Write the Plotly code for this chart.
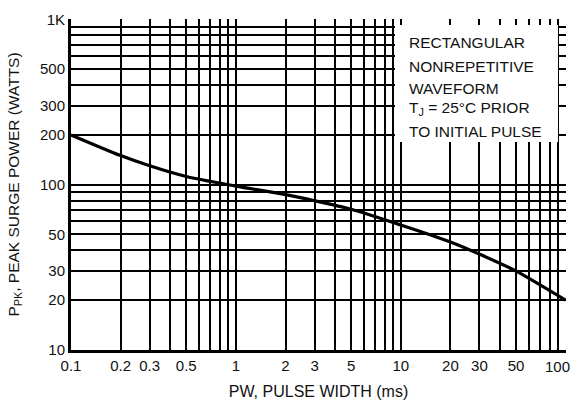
import plotly.graph_objects as go

# Data
pulse_width_ms = [0.1, 0.2, 0.3, 0.5, 1, 2, 3, 5, 10, 20, 30, 50, 100]
peak_power_w = [200, 150, 130, 112, 98, 87, 80, 71, 57, 45, 38, 30, 20]

x_label_vals = [0.1, 0.2, 0.3, 0.5, 1, 2, 3, 5, 10, 20, 30, 50]
x_label_text = ["0.1", "0.2", "0.3", "0.5", "1", "2", "3", "5", "10", "20", "30", "50"]
x_last_label = "100"
y_label_vals = [10, 20, 30, 50, 100, 200, 300, 500, 1000]
y_label_text = ["10", "20", "30", "50", "100", "200", "300", "500", "1K"]

box_lines = [
    "RECTANGULAR",
    "NONREPETITIVE",
    "WAVEFORM",
    "T<sub>J</sub> = 25°C PRIOR",
    "TO INITIAL PULSE",
]

FONT = "Liberation Sans"
INK = "#111111"

L, R, T, B = 71, 8, 19, 54
PW = 574 - L - R
PH = 404 - T - B

def grid_values(lo_exp, hi_exp):
    vals = []
    for e in range(lo_exp, hi_exp):
        for m in range(1, 10):
            vals.append(round(m * 10 ** e, 6))
    vals.append(round(10 ** hi_exp, 6))
    return vals

xgrid = grid_values(-1, 2)
ygrid = grid_values(1, 3)
xtext = [x_label_text[x_label_vals.index(v)] if v in x_label_vals else "" for v in xgrid]
ytext = [y_label_text[y_label_vals.index(v)] if v in y_label_vals else "" for v in ygrid]

fig = go.Figure()
fig.add_trace(go.Scatter(
    x=pulse_width_ms, y=peak_power_w, mode="lines",
    line=dict(color="black", width=3.2, shape="spline", smoothing=0.8),
    showlegend=False, hoverinfo="skip", cliponaxis=False,
))

fig.update_xaxes(
    type="log", range=[-1, 2.002], automargin=False,
    tickvals=xgrid, ticktext=xtext, ticks="",
    showgrid=True, gridcolor="black", gridwidth=1.5,
    showline=True, linecolor="black", linewidth=3,
    tickfont=dict(family=FONT, size=15, color=INK),
    title=dict(text="PW, PULSE WIDTH (ms)", font=dict(family=FONT, size=16, color=INK), standoff=13),
    zeroline=False,
)
fig.update_yaxes(
    type="log", range=[1, 3.002], automargin=False,
    tickvals=ygrid, ticktext=ytext, ticks="",
    showgrid=True, gridcolor="black", gridwidth=1.5,
    showline=True, linecolor="black", linewidth=3,
    tickfont=dict(family=FONT, size=15, color=INK),
    title=dict(text="P<sub>PK</sub>, PEAK SURGE POWER (WATTS)", font=dict(family=FONT, size=15.5, color=INK), standoff=17),
    zeroline=False,
)

def px_x(x):
    return (x - L) / PW

def px_y(y):
    return (404 - B - y) / PH

# last x tick label, kept inside the page
fig.add_annotation(
    xref="paper", yref="paper", x=px_x(572), y=px_y(366),
    text=x_last_label, showarrow=False, xanchor="right", yanchor="middle",
    font=dict(family=FONT, size=15, color=INK),
)

# white legend box covering the grid
fig.add_shape(type="rect", xref="paper", yref="paper",
              x0=px_x(395), x1=px_x(558), y0=px_y(142), y1=px_y(25),
              fillcolor="white", line=dict(width=0), layer="above")

line_y_px = [43, 66, 88, 108, 131]
for txt, ypx in zip(box_lines, line_y_px):
    fig.add_annotation(
        xref="paper", yref="paper", x=px_x(407), y=px_y(ypx),
        text=txt, showarrow=False, xanchor="left", yanchor="middle",
        font=dict(family=FONT, size=15.5, color=INK),
    )

fig.update_layout(
    width=574, height=404,
    margin=dict(l=L, r=R, t=T, b=B),
    paper_bgcolor="white", plot_bgcolor="white",
)

fig.write_html("out.html", config={"displayModeBar": False},
               post_script="document.body.style.margin='0';")
